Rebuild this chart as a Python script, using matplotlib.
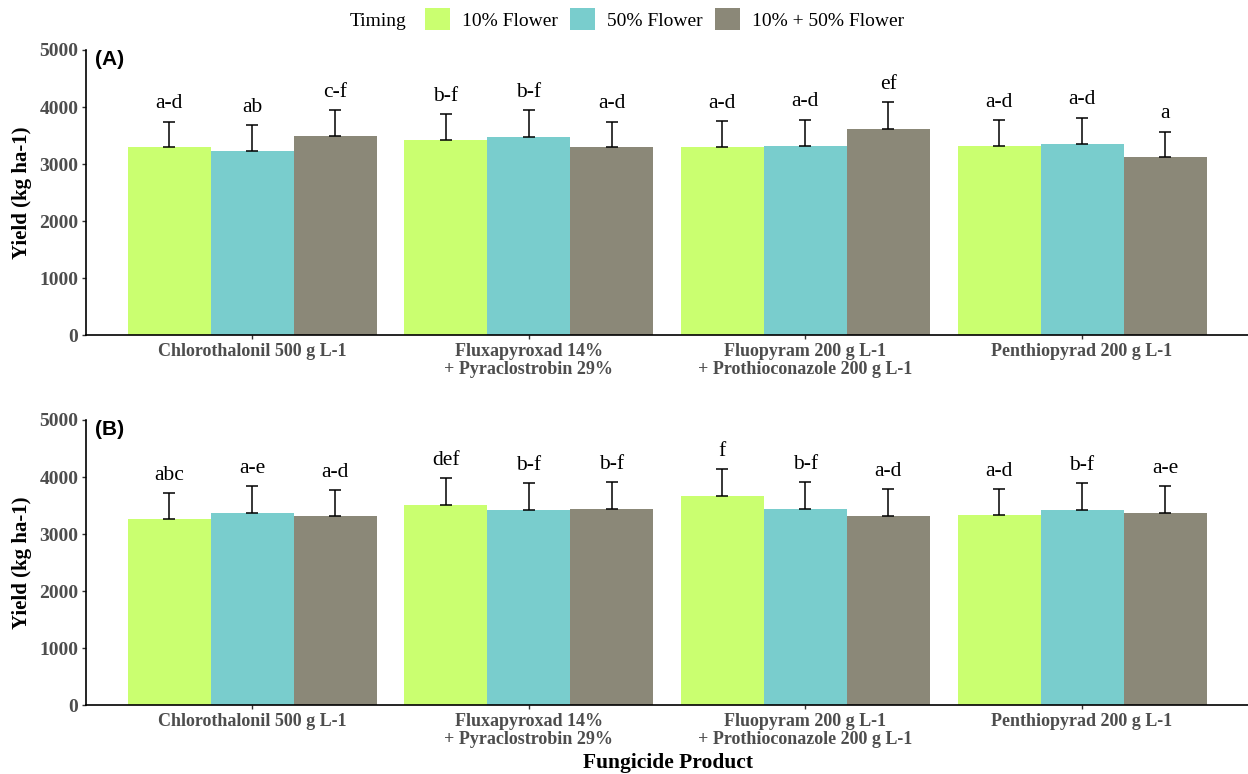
#!/usr/bin/env python3
"""Yield by fungicide product and application timing, two panels (A, B)."""

import matplotlib
matplotlib.use("Agg")
import matplotlib.pyplot as plt
from matplotlib.patches import Patch
import numpy as np

products = [
    "Chlorothalonil 500 g L-1",
    "Fluxapyroxad 14%\n+ Pyraclostrobin 29%",
    "Fluopyram 200 g L-1\n+ Prothioconazole 200 g L-1",
    "Penthiopyrad 200 g L-1",
]
timings = ["10% Flower", "50% Flower", "10% + 50% Flower"]
colors = ["#CAFF70", "#79CDCD", "#8B8878"]

# panel A: mean yield per product (rows) x timing (cols), SE and letters
mean_a = [[3300, 3230, 3490], [3420, 3475, 3300], [3300, 3315, 3615], [3315, 3350, 3125]]
se_a = [[445, 455, 465], [455, 475, 445], [455, 465, 475], [460, 465, 445]]
letters_a = [["a-d", "ab", "c-f"], ["b-f", "b-f", "a-d"], ["a-d", "a-d", "ef"], ["a-d", "a-d", "a"]]

# panel B
mean_b = [[3265, 3370, 3317], [3505, 3422, 3440], [3667, 3434, 3317], [3334, 3422, 3370]]
se_b = [[460, 467, 456], [484, 478, 473], [479, 484, 468], [451, 468, 467]]
letters_b = [["abc", "a-e", "a-d"], ["def", "b-f", "b-f"], ["f", "b-f", "a-d"], ["a-d", "b-f", "a-e"]]

SERIF = "Liberation Serif"
SANS = "Liberation Sans"
TICK_GREY = "#4D4D4D"
W, H = 1248, 774


def draw_panel(ax, means, ses, letters, tag):
    means = np.array(means, dtype=float)
    ses = np.array(ses, dtype=float)
    x = np.arange(len(products))
    width = 0.3
    for j, lab in enumerate(timings):
        xs = x + (j - 1) * width
        ax.bar(xs, means[:, j], width=width, color=colors[j], label=lab, zorder=2)
        ax.errorbar(xs, means[:, j], yerr=[np.zeros(len(xs)), ses[:, j]],
                    fmt="none", ecolor="black", elinewidth=1.1, capsize=4,
                    capthick=1.1, zorder=3)
        for k in range(len(xs)):
            ax.text(xs[k], means[k, j] + ses[k, j] + 230, letters[k][j],
                    ha="center", va="baseline", fontsize=15.5, family=SERIF)

    ax.set_xlim(-0.6, 3.6)
    ax.set_ylim(0, 5000)
    ax.set_yticks([0, 1000, 2000, 3000, 4000, 5000])
    ax.set_xticks(x)
    ax.set_xticklabels(products)
    for s in ["top", "right"]:
        ax.spines[s].set_visible(False)
    for s in ["left", "bottom"]:
        ax.spines[s].set_linewidth(1.2)
        ax.spines[s].set_color("black")
    ax.tick_params(axis="both", length=3, width=1.0, color="#333333", pad=2.5)
    for t in ax.get_yticklabels():
        t.set_fontsize(14)
        t.set_fontweight("bold")
        t.set_color(TICK_GREY)
        t.set_family(SERIF)
    for t in ax.get_xticklabels():
        t.set_fontsize(13)
        t.set_fontweight("bold")
        t.set_color(TICK_GREY)
        t.set_family(SERIF)
        t.set_linespacing(1.1)
    ax.text(0.008, 1.0, tag, transform=ax.transAxes, ha="left", va="top",
            fontsize=15, fontweight="bold", family=SANS)


fig = plt.figure(figsize=(W / 100, H / 100), dpi=100)
left = 86 / W
ax_a = fig.add_axes([left, (H - 335.3) / H, 1 - left, 285.3 / H])
ax_b = fig.add_axes([left, (H - 705.3) / H, 1 - left, 285.3 / H])

draw_panel(ax_a, mean_a, se_a, letters_a, "(A)")
draw_panel(ax_b, mean_b, se_b, letters_b, "(B)")

# y labels and shared x label
for ycen in [(335.3 + 50) / 2, (705.3 + 420) / 2]:
    fig.text(22 / W, (H - ycen) / H, "Yield (kg ha-1)", rotation=90,
             ha="center", va="center", fontsize=15, fontweight="bold", family=SERIF)
fig.text(668 / W, 6 / H, "Fungicide Product", ha="center", va="baseline",
         fontsize=15.5, fontweight="bold", family=SERIF)

# legend across the top
handles = [Patch(facecolor=c, edgecolor="none") for c in colors]
fig.text(350 / W, (H - 26.5) / H, "Timing", ha="left", va="baseline",
         fontsize=14, family=SERIF)
fig.legend(handles, timings, loc="center left", bbox_to_anchor=(425 / W, (H - 19) / H),
           ncol=3, frameon=False, borderpad=0, borderaxespad=0,
           handlelength=1.29, handleheight=1.29, handletextpad=0.62,
           columnspacing=0.62, prop={"family": SERIF, "size": 14})

fig.savefig("out.png", dpi=100)
